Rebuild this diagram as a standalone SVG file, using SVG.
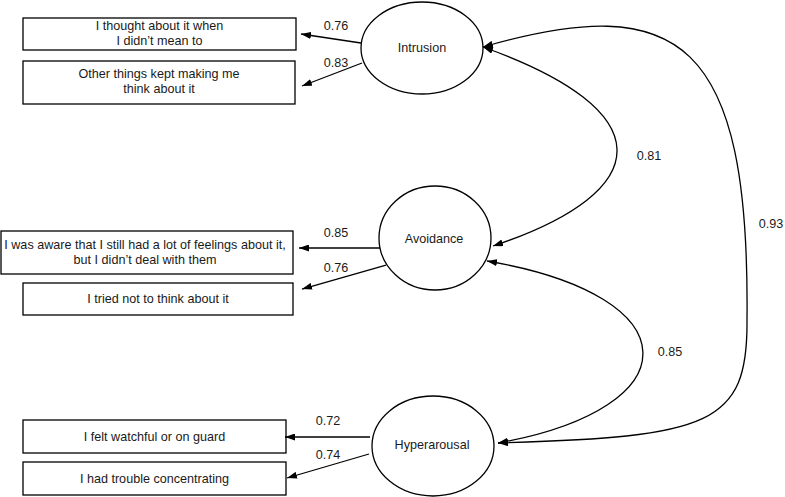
<svg xmlns="http://www.w3.org/2000/svg" width="785" height="497" viewBox="0 0 785 497">
<style>
.box{fill:#fff;stroke:#000;stroke-width:1.3}
.lat{fill:#fff;stroke:#000;stroke-width:1.3}
.t{font-family:"Liberation Sans",Arial,sans-serif;font-size:12.6px;fill:#1a1a1a;text-anchor:middle}
.c{fill:none;stroke:#000;stroke-width:1.3}
</style>
<defs>
<marker id="ah" viewBox="0 0 10 7" refX="10" refY="3.5" markerWidth="10" markerHeight="7" markerUnits="userSpaceOnUse" orient="auto-start-reverse">
<path d="M0,0 L10,3.5 L0,7 z" fill="#000"/>
</marker>
</defs>
<rect width="785" height="497" fill="#fff"/>
<g id="item1"><rect class="box" x="23" y="18" width="273" height="32"/><text class="t" x="159.5" y="30">I thought about it when</text><text class="t" x="159.5" y="45">I didn’t mean to</text></g>
<g id="item2"><rect class="box" x="23" y="61" width="272" height="43"/><text class="t" x="159" y="78">Other things kept making me</text><text class="t" x="159" y="93">think about it</text></g>
<g id="item3"><rect class="box" x="1" y="231" width="292" height="43"/><text class="t" x="145" y="249">I was aware that I still had a lot of feelings about it,</text><text class="t" x="145" y="264">but I didn’t deal with them</text></g>
<g id="item4"><rect class="box" x="23" y="283" width="270" height="32"/><text class="t" x="158" y="303">I tried not to think about it</text></g>
<g id="item5"><rect class="box" x="23" y="420" width="263" height="33"/><text class="t" x="154.5" y="441">I felt watchful or on guard</text></g>
<g id="item6"><rect class="box" x="23" y="462" width="263" height="33"/><text class="t" x="154.5" y="483">I had trouble concentrating</text></g>
<g id="intrusion"><ellipse class="lat" cx="422" cy="48" rx="61" ry="46"/><text class="t" x="422" y="52">Intrusion</text></g>
<g id="avoidance"><ellipse class="lat" cx="435" cy="238" rx="56" ry="52"/><text class="t" x="434" y="243">Avoidance</text></g>
<g id="hyperarousal"><ellipse class="lat" cx="433" cy="446" rx="61" ry="50"/><text class="t" x="432" y="449">Hyperarousal</text></g>
<g id="connectors">
<path class="c" d="M361,43 L301,34" marker-end="url(#ah)"/>
<path class="c" d="M362,63 L302,86" marker-end="url(#ah)"/>
<path class="c" d="M380,248 L299,248" marker-end="url(#ah)"/>
<path class="c" d="M386,265 L302,289" marker-end="url(#ah)"/>
<path class="c" d="M370,437 L285,437" marker-end="url(#ah)"/>
<path class="c" d="M369,454 L287,478" marker-end="url(#ah)"/>
<path class="c" d="M483,47 C660,110 660,190 493,246" marker-start="url(#ah)" marker-end="url(#ah)"/>
<path class="c" d="M487,261 C693,296 693,408 498,443" marker-start="url(#ah)" marker-end="url(#ah)"/>
<path class="c" d="M483,47 C680,-10 750,40 747,320 C748,425 710,437 498,443" marker-start="url(#ah)" marker-end="url(#ah)"/>
<text class="t" x="336" y="30">0.76</text>
<text class="t" x="336" y="67">0.83</text>
<text class="t" x="336" y="237">0.85</text>
<text class="t" x="336" y="272">0.76</text>
<text class="t" x="328" y="425">0.72</text>
<text class="t" x="328" y="459">0.74</text>
<text class="t" x="649" y="160">0.81</text>
<text class="t" x="670" y="356">0.85</text>
<text class="t" x="771" y="228">0.93</text>
</g>
</svg>
